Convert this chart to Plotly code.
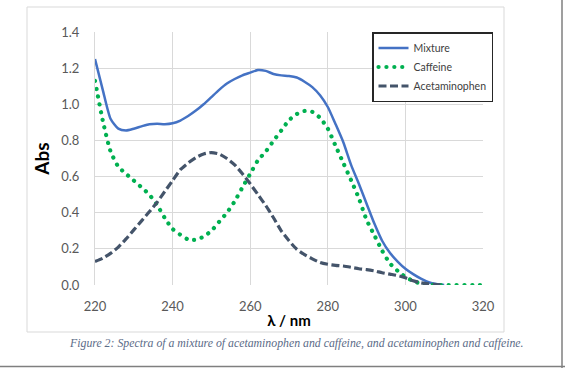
import plotly.graph_objects as go

wavelength = list(range(220, 322, 2))

mixture = [1.25, 1.08, 0.92, 0.865, 0.855, 0.865, 0.878, 0.89, 0.892, 0.89,
           0.895, 0.91, 0.935, 0.965, 1.0, 1.04, 1.08, 1.115, 1.14, 1.16,
           1.175, 1.19, 1.185, 1.168, 1.16, 1.157, 1.148, 1.125, 1.095, 1.05,
           0.985, 0.89, 0.79, 0.665, 0.56, 0.45, 0.34, 0.245, 0.178, 0.13,
           0.09, 0.06, 0.035, 0.015, 0.005, 0.0, None, None, None, None, None]

caffeine = [1.13, 0.91, 0.74, 0.655, 0.615, 0.578, 0.54, 0.50, 0.443, 0.37,
            0.31, 0.278, 0.252, 0.25, 0.268, 0.30, 0.35, 0.40, 0.463, 0.54,
            0.615, 0.69, 0.738, 0.798, 0.855, 0.912, 0.946, 0.963, 0.958, 0.925,
            0.865, 0.77, 0.675, 0.58, 0.48, 0.36, 0.275, 0.19, 0.12, 0.078,
            0.045, 0.022, 0.008, 0.002, 0.0, 0.0, 0.0, 0.0, 0.0, 0.0, 0.0]

acetaminophen = [0.13, 0.148, 0.175, 0.21, 0.255, 0.305, 0.355, 0.405, 0.458, 0.518,
                 0.578, 0.638, 0.675, 0.705, 0.725, 0.733, 0.725, 0.70, 0.665, 0.615,
                 0.56, 0.50, 0.44, 0.372, 0.30, 0.245, 0.198, 0.168, 0.145, 0.125,
                 0.115, 0.109, 0.105, 0.098, 0.09, 0.085, 0.078, 0.068, 0.06, 0.052,
                 0.04, 0.024, 0.012, 0.006, 0.002, 0.0, None, None, None, None, None]

x_ticks = [220, 240, 260, 280, 300, 320]
y_ticks = [0.0, 0.2, 0.4, 0.6, 0.8, 1.0, 1.2, 1.4]

W, H = 565, 368
L, R, T, B = 95, 483, 32, 285


def px(x):
    return (x - L) / (R - L)


def py(y):
    return (B - y) / (B - T)


fig = go.Figure()
fig.add_trace(go.Scatter(x=wavelength, y=mixture, name="Mixture", mode="lines",
                         line=dict(color="#4472C4", width=2.5, shape="spline", smoothing=0.6)))
fig.add_trace(go.Scatter(x=wavelength, y=caffeine, name="Caffeine", mode="lines",
                         line=dict(color="#00B050", width=4.2, dash="0.1px,7.8px",
                                   shape="spline", smoothing=0.6)))
fig.add_trace(go.Scatter(x=wavelength, y=acetaminophen, name="Acetaminophen", mode="lines",
                         line=dict(color="#44546A", width=3.2, dash="8px,3.5px",
                                   shape="spline", smoothing=0.6)))

tick_font = dict(family="Lato, 'Noto Sans', sans-serif", size=13, color="#595959")

fig.update_layout(
    width=W, height=H,
    margin=dict(l=L, r=W - R, t=T, b=H - B),
    paper_bgcolor="white", plot_bgcolor="white",
    showlegend=True,
    legend=dict(x=px(372), y=py(32), xanchor="left", yanchor="top",
                bgcolor="white", bordercolor="#262626", borderwidth=1.5,
                font=dict(family="Lato, 'Noto Sans', sans-serif", size=10.5, color="#404040"),
                tracegroupgap=0, itemwidth=30),
    xaxis=dict(range=[220, 320], tickvals=x_ticks, ticktext=[str(v) for v in x_ticks],
               showgrid=True, gridcolor="#D9D9D9", gridwidth=1,
               zeroline=False, showline=False, automargin=False,
               ticks="outside", ticklen=9, tickcolor="rgba(0,0,0,0)",
               tickfont=tick_font,
               title=dict(text="<b>λ / nm</b>", standoff=2,
                          font=dict(family="Lato, 'Noto Sans', sans-serif", size=15, color="#000000"))),
    yaxis=dict(range=[0, 1.4], tickvals=y_ticks, ticktext=[f"{v:.1f}" for v in y_ticks],
               showgrid=True, gridcolor="#D9D9D9", gridwidth=1,
               zeroline=False, showline=True, linecolor="#D9D9D9", linewidth=1, automargin=False,
               ticks="outside", ticklen=12, tickcolor="rgba(0,0,0,0)",
               tickfont=tick_font,
               title=dict(text="<b>Abs</b>", standoff=6,
                          font=dict(family="Lato, 'Noto Sans', sans-serif", size=19, color="#000000"))),
)

# chart-area border
fig.add_shape(type="rect", xref="paper", yref="paper",
              x0=px(27), x1=px(504), y0=py(332), y1=py(7),
              line=dict(color="#D9D9D9", width=1), layer="below")
# image frame lines (right and bottom)
fig.add_shape(type="line", xref="paper", yref="paper",
              x0=px(562), x1=px(562), y0=py(368), y1=py(0),
              line=dict(color="#7F7F7F", width=1.5))
fig.add_shape(type="line", xref="paper", yref="paper",
              x0=px(0), x1=px(565), y0=py(366.5), y1=py(366.5),
              line=dict(color="#7F7F7F", width=1.5))

fig.add_annotation(
    text="<i>Figure 2: Spectra of a mixture of acetaminophen and caffeine, and acetaminophen and caffeine.</i>",
    xref="paper", yref="paper", x=px(296.5), y=py(343), xanchor="center", yanchor="middle",
    showarrow=False,
    font=dict(family="'Liberation Serif', 'DejaVu Serif', serif", size=11.8, color="#5B6B87"),
)

post = """
document.body.style.margin = '0';
document.body.style.padding = '0';
document.querySelectorAll('path.js-line').forEach(function(p){
  var d = p.style.strokeDasharray || '';
  if (d.indexOf('0.1') === 0) { p.style.strokeLinecap = 'round'; }
});
"""
fig.write_html("out.html", post_script=post, config={"displayModeBar": False})
